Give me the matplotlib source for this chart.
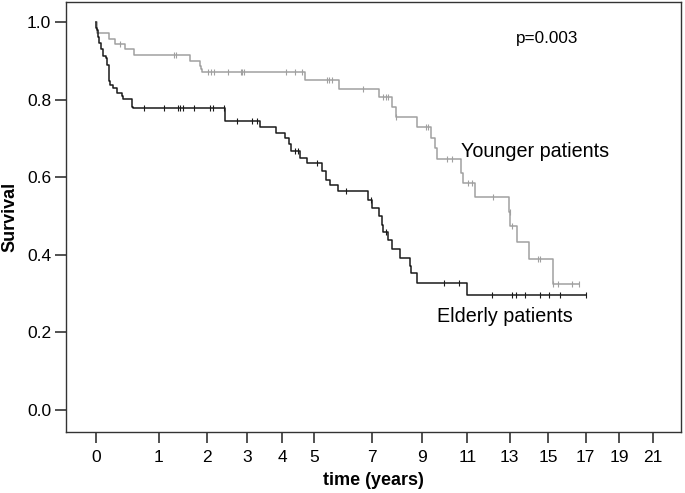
import numpy as np
import matplotlib
matplotlib.use("Agg")
import matplotlib.pyplot as plt

plt.rcParams["font.family"] = ["Liberation Sans", "DejaVu Sans"]

# x axis ticks (the axis is stretched unevenly in the original)
tick_years = [0, 1, 2, 3, 4, 5, 7, 9, 11, 13, 15, 17, 19, 21]
tick_pos = [95.9, 158.9, 206.7, 247.4, 282.5, 314.4, 371.8, 421.6,
            467.5, 509.8, 548.4, 585.8, 619.4, 652.9]

# younger patients: step times (years) and survival after the step
young_t = [0, 0.025, 0.213, 0.303, 0.470, 0.602, 1.644, 1.854, 1.881, 1.912,
           4.721, 5.864, 7.277, 7.799, 7.972, 8.803, 9.397, 9.584, 9.684,
           10.704, 10.817, 11.355, 12.976, 13.026, 13.358, 14.010, 15.230]
young_s = [1.0, 0.971, 0.955, 0.943, 0.930, 0.914, 0.900, 0.886, 0.880, 0.870,
           0.850, 0.827, 0.806, 0.781, 0.756, 0.730, 0.701, 0.675, 0.646,
           0.612, 0.586, 0.550, 0.511, 0.475, 0.434, 0.389, 0.325]
young_end = 16.64
young_cens = [0.383, 1.322, 1.357, 2.039, 2.118, 2.192, 2.531, 2.835, 2.875,
              2.916, 4.100, 4.392, 4.602, 5.429, 5.526, 5.631, 6.693, 7.438,
              7.558, 7.663, 7.98, 9.192, 9.292, 10.094, 10.312, 11.038,
              11.199, 12.191, 13.01, 13.098, 14.477, 14.565, 15.262, 15.497,
              16.246, 16.636]

# elderly patients
old_t = [0, 0.006, 0.022, 0.038, 0.054, 0.076, 0.117, 0.160, 0.181, 0.203,
         0.224, 0.267, 0.330, 0.410, 0.435, 0.568, 0.584, 2.461, 3.359,
         3.815, 4.078, 4.213, 4.257, 4.549, 4.777, 5.254, 5.404, 5.544,
         5.833, 6.878, 6.997, 7.289, 7.398, 7.462, 7.663, 7.799, 8.133,
         8.534, 8.56, 8.803, 10.965]
old_s = [1.0, 0.984, 0.978, 0.962, 0.945, 0.930, 0.911, 0.906, 0.889, 0.849,
         0.838, 0.829, 0.816, 0.809, 0.801, 0.782, 0.777, 0.746, 0.730,
         0.713, 0.700, 0.685, 0.668, 0.649, 0.636, 0.616, 0.594, 0.580,
         0.564, 0.541, 0.520, 0.500, 0.477, 0.460, 0.438, 0.416, 0.393,
         0.372, 0.352, 0.327, 0.296]
old_end = 17.04
old_cens = [0.768, 1.107, 1.406, 1.441, 1.498, 1.734, 2.081, 2.162, 2.432,
            2.757, 3.123, 3.265, 4.392, 4.495, 5.101, 6.091, 6.962, 7.562,
            9.985, 10.638, 12.144, 13.098, 13.311, 13.788, 14.565, 15.032,
            15.647, 17.04]

# piecewise-linear scale through the tick positions
kt = np.array([-1] + tick_years + [24], dtype=float)
kp = np.array([tick_pos[0] - 63.0] + tick_pos + [tick_pos[-1] + 3 * 16.75])


def fwd(x):
    return np.interp(x, kt, kp)


def inv(p):
    return np.interp(p, kp, kt)


def km(ax, t, s, end, cens, color):
    tt = list(t) + [end]
    ss = list(s) + [s[-1]]
    ax.step(tt, ss, where="post", color=color, lw=1.1)
    idx = np.searchsorted(t, cens, side="right") - 1
    cs = np.array(s)[idx]
    ax.plot(cens, cs, ls="none", marker="|", ms=4, mew=0.8, color=color)


fig = plt.figure(figsize=(6.85, 4.93), dpi=100)
ax = fig.add_axes([0.0959, 0.1237, 0.8978, 0.8723])
ax.set_xscale("function", functions=(fwd, inv))

km(ax, young_t, young_s, young_end, young_cens, "#a0a0a0")
km(ax, old_t, old_s, old_end, old_cens, "#1a1a1a")

ax.set_xlim(-0.479, 22.66)
ax.set_ylim(-0.0567, 1.0515)
ax.set_xticks(tick_years)
ax.set_xticklabels([str(v) for v in tick_years])
ax.set_yticks([0.0, 0.2, 0.4, 0.6, 0.8, 1.0])
ax.set_yticklabels(["0.0", "0.2", "0.4", "0.6", "0.8", "1.0"])
ax.minorticks_off()
ax.tick_params(direction="out", length=8, width=1.2, labelsize=12.5,
               color="#333333")
ax.tick_params(axis="x", pad=5)
ax.tick_params(axis="y", pad=2.5)

for sp in ax.spines.values():
    sp.set_color("#333333")
    sp.set_linewidth(1.0)

ax.set_xlabel("time (years)", fontsize=13, fontweight="bold", labelpad=5)
ax.set_ylabel("Survival", fontsize=13, fontweight="bold")
ax.yaxis.set_label_coords(-0.0776, 0.5)

ax.text(0.783, 0.916, "p=0.003", transform=ax.transAxes, fontsize=12.3,
        ha="center", va="center")
ax.text(10.72, 0.667, "Younger patients", fontsize=14.2, ha="left",
        va="center")
ax.text(9.67, 0.24, "Elderly patients", fontsize=14.2, ha="left",
        va="center")

fig.savefig("out.png", dpi=100)
